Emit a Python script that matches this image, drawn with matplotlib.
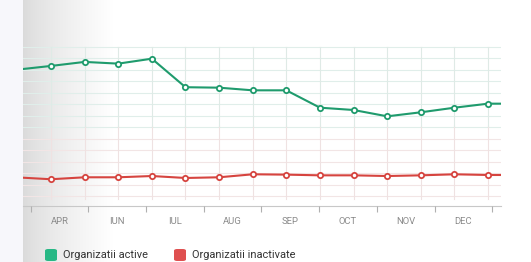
import numpy as np
import matplotlib
matplotlib.use("Agg")
import matplotlib.pyplot as plt
from matplotlib.patches import FancyBboxPatch

# ---- data ----
point_index = list(range(-1, 15))
active = [120.3, 123.5, 127.0, 125.5, 129.8, 105.0, 104.6, 102.3, 102.3,
          87.2, 85.2, 79.7, 83.2, 87.2, 90.7, 90.7]
inactive = [26.6, 25.0, 26.7, 26.7, 27.8, 26.1, 26.7, 29.3, 29.0,
            28.4, 28.4, 27.8, 28.4, 29.3, 28.7, 28.7]
months = ["APR", "IUN", "IUL", "AUG", "SEP", "OCT", "NOV", "DEC"]
legend_labels = ["Organizatii active", "Organizatii inactivate"]

W, H = 531, 262
fig = plt.figure(figsize=(W / 100, H / 100), dpi=100)
fig.patch.set_facecolor("white")

# background with left strip and gray gradient
bg = fig.add_axes([0, 0, 1, 1], zorder=0)
bg.set_axis_off()
img = np.ones((1, W, 3))
for i in range(W):
    if i < 23:
        img[0, i] = (0.972, 0.972, 0.988)
    else:
        t = min(1.0, (i - 23) / 90.0)
        g = 0.855 + (1.0 - 0.855) * (t ** 0.75)
        img[0, i] = (g, g, g)
bg.imshow(img, aspect="auto", extent=(0, W, 0, H), interpolation="bilinear")
bg.set_xlim(0, W)
bg.set_ylim(0, H)

def px(x0, y0, x1, y1):
    return [x0 / W, 1 - y1 / H, (x1 - x0) / W, (y1 - y0) / H]

ax = fig.add_axes(px(23, 45, 501, 206), zorder=2)
ax.patch.set_alpha(0)
x0p, step = 51.0, 33.62
ax.set_xlim((23 - x0p) / step, (501 - x0p) / step)
ax.set_ylim(1.74, 141.7)

# grid
for v in range(10, 141, 10):
    c = "#e0eeea" if v >= 70 else "#f2e5e5"
    ax.axhline(v, color=c, lw=0.8, zorder=1)
for i in range(0, 14):
    ax.plot([i, i], [8, 71], color="#efe2e2", lw=0.8, zorder=1)
    ax.plot([i, i], [71, 140], color="#dfeae6", lw=0.8, zorder=1)

green = "#1f9b6d"
red = "#d6443f"
ax.plot(point_index, active, color=green, lw=1.5, marker="o", ms=3.8,
        mfc="white", mec=green, mew=1.3, zorder=3, clip_on=True)
ax.plot(point_index, inactive, color=red, lw=1.5, marker="o", ms=3.8,
        mfc="white", mec=red, mew=1.3, zorder=3, clip_on=True)

for s in ["top", "right", "left"]:
    ax.spines[s].set_visible(False)
ax.spines["bottom"].set_color("#c8c8c8")
ax.spines["bottom"].set_linewidth(0.8)
ax.set_yticks([])
ax.set_xticks([])

# month band axis
ax2 = fig.add_axes(px(23, 45, 501, 206), zorder=3)
ax2.patch.set_alpha(0)
b0, bw = 59.5, 57.7
ax2.set_xlim((23 - b0) / bw, (501 - b0) / bw)
ax2.set_yticks([])
for s in ["top", "right", "left", "bottom"]:
    ax2.spines[s].set_visible(False)
ax2.set_xticks(np.arange(len(months) + 1) - 0.5)
ax2.set_xticklabels([])
ax2.set_xticks(np.arange(len(months)), minor=True)
ax2.set_xticklabels(months, minor=True)
ax2.tick_params(axis="x", which="major", length=4, color="#b0b0b0", width=0.8)
ax2.tick_params(axis="x", which="minor", length=0, pad=8, labelsize=6.8,
                labelcolor="#8a8a8a")
for lab in ax2.get_xticklabels(minor=True):
    lab.set_fontfamily("Roboto")

# legend
legend_colors = ["#27b885", "#df5050"]
lx = [45, 174]
for x, c, lab in zip(lx, legend_colors, legend_labels):
    fig.patches.append(FancyBboxPatch((x / W, 1 - 261 / H), 12 / W, 12 / H,
                                      boxstyle="round,pad=0,rounding_size=0.006",
                                      transform=fig.transFigure, fc=c, ec="none",
                                      zorder=5))
    fig.text((x + 18) / W, 1 - 255 / H, lab, fontsize=7.9, color="#333333",
             va="center", ha="left", family="Roboto", zorder=5)

fig.savefig("out.png", dpi=100)
